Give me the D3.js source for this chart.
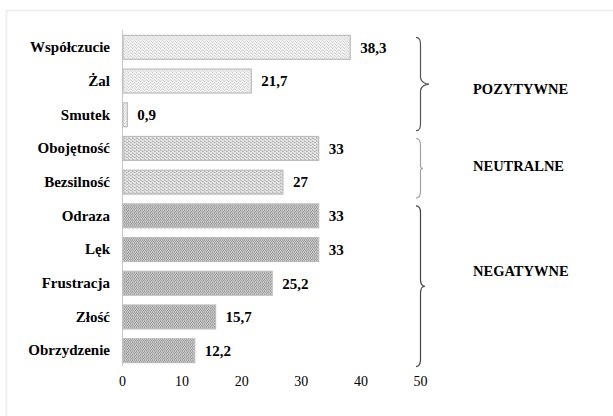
<!DOCTYPE html>
<html>
<head>
<meta charset="utf-8">
<script src="https://cdn.jsdelivr.net/npm/d3@7"></script>
<style>
  html, body { margin: 0; padding: 0; background: #fff; }
  svg { display: block; }
  text { font-family: "Liberation Serif", "Times New Roman", Times, serif; fill: #000; }
</style>
</head>
<body>
<svg id="chart" width="613" height="416"></svg>
<script>
// Emotions, in display order (top to bottom)
const categories = ["Współczucie", "Żal", "Smutek", "Obojętność", "Bezsilność",
                    "Odraza", "Lęk", "Frustracja", "Złość", "Obrzydzenie"];
const values = [38.3, 21.7, 0.9, 33, 27, 33, 33, 25.2, 15.7, 12.2];
const groupOf = ["poz", "poz", "poz", "neu", "neu", "neg", "neg", "neg", "neg", "neg"];
const groupKeys = ["poz", "neu", "neg"];
const groupNames = ["POZYTYWNE", "NEUTRALNE", "NEGATYWNE"];
const xTicks = [0, 10, 20, 30, 40, 50];

const FONT = '"Liberation Serif", "Times New Roman", Times, serif';
const svg = d3.select("#chart");
const fmt = v => String(v).replace(".", ",");

// frame (top and left edges only are visible)
svg.append("line").attr("x1", 6).attr("x2", 613).attr("y1", 10.5).attr("y2", 10.5)
  .attr("stroke", "#ececec").attr("stroke-width", 1.5);
svg.append("line").attr("x1", 6.5).attr("x2", 6.5).attr("y1", 10).attr("y2", 416)
  .attr("stroke", "#ececec").attr("stroke-width", 1.5);

// fill patterns per group
const defs = svg.append("defs");
function pattern(id, bg, dots) {
  const p = defs.append("pattern").attr("id", id).attr("patternUnits", "userSpaceOnUse")
    .attr("width", 4).attr("height", 3);
  p.append("rect").attr("width", 4).attr("height", 3).attr("fill", bg);
  dots.forEach(([x, y, c]) => p.append("rect").attr("x", x).attr("y", y)
    .attr("width", 1).attr("height", 1).attr("fill", c));
}
pattern("pat-poz", "#efefef", [[0, 0, "#d2d2d2"], [2, 1, "#dadada"], [1, 2, "#e0e0e0"], [3, 2, "#d8d8d8"]]);
pattern("pat-neu", "#e2e2e2", [[0, 0, "#b8b8b8"], [1, 0, "#c4c4c4"], [2, 1, "#b4b4b4"], [3, 1, "#c0c0c0"], [0, 2, "#c8c8c8"]]);
pattern("pat-neg", "#c6c6c6", [[0, 0, "#9c9c9c"], [2, 0, "#a8a8a8"], [1, 1, "#a4a4a4"], [3, 1, "#9e9e9e"], [0, 2, "#acacac"], [2, 2, "#a2a2a2"]]);

const x = d3.scaleLinear().domain([0, 50]).range([122, 420]);
const y = d3.scaleBand().domain(categories).range([30.5, 367.5]).paddingInner(0.29).paddingOuter(0.145);

// x axis labels only
const xAxis = svg.append("g").attr("transform", "translate(0,376)")
  .call(d3.axisBottom(x).tickValues(xTicks).tickSize(0).tickPadding(0).tickFormat(d3.format("d")));
xAxis.attr("font-family", FONT);
xAxis.select(".domain").remove();
xAxis.selectAll("text").attr("dy", "0.71em").style("font-size", "14px")
  .style("font-family", FONT).attr("fill", "#000");

// category axis
const yAxis = svg.append("g").attr("transform", `translate(${x(0)},0)`)
  .call(d3.axisLeft(y).tickSize(0).tickPadding(12));
yAxis.attr("font-family", FONT);
yAxis.select(".domain").attr("stroke", "#c8c8c8").attr("d", `M0.5,30V366`);
yAxis.selectAll("text").style("font-size", "15px").style("font-weight", "bold")
  .style("font-family", FONT).attr("fill", "#000");

// bars
svg.append("g").selectAll("rect").data(categories).join("rect")
  .attr("x", x(0) + 1)
  .attr("y", d => y(d))
  .attr("width", (d, i) => x(values[i]) - x(0) - 1)
  .attr("height", y.bandwidth())
  .attr("fill", (d, i) => `url(#pat-${groupOf[i]})`)
  .attr("stroke", "#bdbdbd").attr("stroke-width", 1.2);

// value labels
svg.append("g").selectAll("text").data(categories).join("text")
  .attr("x", (d, i) => x(values[i]) + 10)
  .attr("y", d => y(d) + y.bandwidth() / 2)
  .attr("dy", "0.35em")
  .style("font-family", FONT)
  .style("font-size", "15px").style("font-weight", "bold")
  .text((d, i) => fmt(values[i]));

// group braces and names
const braceStroke = { poz: "#555", neu: "#a0a0a0", neg: "#444" };
const braceDepth = { poz: 13, neu: 7, neg: 9 };
const nameShift = { poz: 5, neu: -2, neg: -15 };
groupKeys.forEach((g, gi) => {
  const members = categories.filter((c, i) => groupOf[i] === g);
  const y0 = y(members[0]) + 2;
  const y1 = y(members[members.length - 1]) + y.bandwidth() + 4;
  const ym = (y0 + y1) / 2;
  const x0 = 416, w = braceDepth[g], xv = x0 + 4.5, r = 7;
  const p = d3.path();
  p.moveTo(x0, y0);
  p.bezierCurveTo(x0 + 3, y0, xv, y0 + 2, xv, y0 + r);
  p.lineTo(xv, ym - r);
  p.bezierCurveTo(xv, ym - 2, x0 + w - 3, ym, x0 + w, ym);
  p.bezierCurveTo(x0 + w - 3, ym, xv, ym + 2, xv, ym + r);
  p.lineTo(xv, y1 - r);
  p.bezierCurveTo(xv, y1 - 2, x0 + 3, y1, x0, y1);
  svg.append("path").attr("d", p.toString()).attr("fill", "none")
    .attr("stroke", braceStroke[g]).attr("stroke-width", 1.2);
  svg.append("text").attr("x", 473).attr("y", ym + nameShift[g]).attr("dy", "0.35em")
    .style("font-family", FONT)
    .style("font-size", "14.5px").style("font-weight", "bold")
    .text(groupNames[gi]);
});
</script>
</body>
</html>
